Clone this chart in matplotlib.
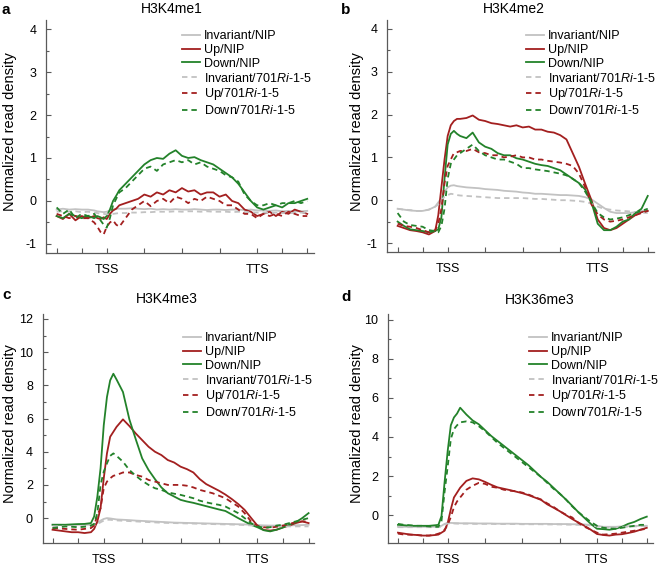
import matplotlib
matplotlib.use('Agg')
import matplotlib.pyplot as plt

plt.rcParams['font.family'] = 'Liberation Sans'
plt.rcParams['mathtext.fontset'] = 'custom'
plt.rcParams['mathtext.rm'] = 'Liberation Sans'
plt.rcParams['mathtext.it'] = 'Liberation Sans:italic'
plt.rcParams['axes.unicode_minus'] = False

# metagene position: 0-4 upstream, 4 = TSS, 16 = TTS, 16-20 downstream
X = [0, 0.5, 1, 1.5, 2, 2.5, 3,
     3.25, 3.5, 3.75, 4, 4.25, 4.5, 4.75, 5,
     5.5, 6, 6.5, 7, 7.5, 8, 8.5, 9, 9.5, 10,
     10.5, 11, 11.5, 12, 12.5, 13, 13.5, 14, 14.5, 15,
     15.5, 16, 16.5, 17, 17.5, 18, 18.5, 19, 19.5, 20]
XTICKS = [0, 2, 4, 7, 10, 13, 16, 18, 20]
XTICKLABELS = ['', '', 'TSS', '', '', '', 'TTS', '', '']

LABELS = ['Invariant/NIP', 'Up/NIP', 'Down/NIP',
          r'Invariant/$\mathit{701Ri}$-$\mathit{1}$-$\mathit{5}$',
          r'Up/$\mathit{701Ri}$-$\mathit{1}$-$\mathit{5}$',
          r'Down/$\mathit{701Ri}$-$\mathit{1}$-$\mathit{5}$']

# ---- a: H3K4me1
a_inv_nip = [-0.20, -0.18, -0.20, -0.19, -0.20, -0.20, -0.22,
             -0.24, -0.25, -0.26, -0.25, -0.22, -0.20, -0.18, -0.18,
             -0.18, -0.17, -0.18, -0.19, -0.18, -0.20, -0.19, -0.20, -0.19, -0.20,
             -0.20, -0.19, -0.20, -0.21, -0.20, -0.20, -0.21, -0.20, -0.20, -0.21,
             -0.20, -0.22, -0.22, -0.23, -0.22, -0.24, -0.23, -0.24, -0.24, -0.23]
a_up_nip = [-0.35, -0.42, -0.30, -0.45, -0.35, -0.40, -0.35,
            -0.40, -0.42, -0.38, -0.42, -0.30, -0.22, -0.18, -0.10,
            -0.05, 0.00, 0.05, 0.15, 0.10, 0.20, 0.15, 0.25, 0.20, 0.30,
            0.22, 0.25, 0.15, 0.20, 0.20, 0.10, 0.15, 0.00, -0.05, -0.20,
            -0.25, -0.35, -0.30, -0.25, -0.35, -0.25, -0.30, -0.20, -0.25, -0.30]
a_down_nip = [-0.35, -0.40, -0.30, -0.35, -0.40, -0.35, -0.40,
              -0.35, -0.38, -0.42, -0.35, -0.20, 0.00, 0.12, 0.25,
              0.40, 0.55, 0.70, 0.85, 0.95, 1.00, 0.98, 1.10, 1.18, 1.05,
              1.00, 1.02, 0.95, 0.90, 0.85, 0.75, 0.65, 0.55, 0.40, 0.20,
              0.00, -0.15, -0.20, -0.15, -0.10, -0.15, -0.05, -0.05, 0.00, 0.05]
a_inv_701 = [-0.25, -0.24, -0.25, -0.24, -0.26, -0.25, -0.27,
             -0.28, -0.30, -0.30, -0.31, -0.30, -0.30, -0.29, -0.28,
             -0.28, -0.27, -0.27, -0.26, -0.26, -0.25, -0.25, -0.25, -0.24, -0.25,
             -0.24, -0.24, -0.25, -0.24, -0.25, -0.25, -0.25, -0.26, -0.25, -0.26,
             -0.26, -0.27, -0.27, -0.28, -0.27, -0.28, -0.28, -0.28, -0.27, -0.28]
a_up_701 = [-0.30, -0.35, -0.40, -0.35, -0.40, -0.40, -0.50,
            -0.60, -0.72, -0.78, -0.60, -0.50, -0.45, -0.55, -0.60,
            -0.40, -0.20, -0.10, 0.00, -0.12, 0.00, 0.05, -0.05, 0.10, 0.05,
            -0.05, 0.05, 0.00, 0.10, 0.05, 0.00, -0.10, -0.10, -0.20, -0.30,
            -0.30, -0.40, -0.30, -0.35, -0.30, -0.35, -0.25, -0.30, -0.35, -0.35]
a_down_701 = [-0.15, -0.30, -0.20, -0.40, -0.30, -0.35, -0.30,
              -0.40, -0.45, -0.55, -0.62, -0.40, -0.10, 0.05, 0.20,
              0.30, 0.45, 0.60, 0.75, 0.80, 0.70, 0.85, 0.90, 0.95, 0.90,
              0.95, 0.85, 0.90, 0.80, 0.75, 0.70, 0.60, 0.55, 0.45, 0.15,
              0.00, -0.10, -0.10, -0.05, -0.10, -0.05, -0.05, 0.00, -0.05, 0.00]

# ---- b: H3K4me2
b_inv_nip = [-0.20, -0.22, -0.24, -0.25, -0.25, -0.22, -0.15,
             -0.05, 0.05, 0.20, 0.30, 0.34, 0.35, 0.33, 0.32,
             0.30, 0.29, 0.28, 0.26, 0.25, 0.24, 0.22, 0.21, 0.20, 0.18,
             0.17, 0.15, 0.15, 0.14, 0.13, 0.12, 0.12, 0.11, 0.10, 0.07,
             0.02, -0.08, -0.18, -0.27, -0.30, -0.30, -0.30, -0.28, -0.25, -0.25]
b_up_nip = [-0.60, -0.65, -0.70, -0.72, -0.75, -0.80, -0.72,
            -0.35, 0.30, 0.95, 1.50, 1.75, 1.85, 1.90, 1.90,
            1.92, 1.98, 1.88, 1.85, 1.80, 1.78, 1.75, 1.72, 1.75, 1.70,
            1.72, 1.65, 1.65, 1.60, 1.58, 1.52, 1.42, 1.10, 0.78, 0.38,
            0.00, -0.45, -0.65, -0.70, -0.65, -0.55, -0.45, -0.35, -0.28, -0.25]
b_down_nip = [-0.50, -0.60, -0.68, -0.70, -0.72, -0.75, -0.72,
              -0.68, -0.40, 0.50, 1.30, 1.55, 1.62, 1.55, 1.50,
              1.45, 1.58, 1.35, 1.25, 1.20, 1.10, 1.05, 1.05, 0.98, 0.95,
              0.90, 0.85, 0.82, 0.80, 0.75, 0.70, 0.60, 0.50, 0.40, 0.25,
              -0.05, -0.55, -0.70, -0.70, -0.62, -0.50, -0.45, -0.30, -0.20, 0.10]
b_inv_701 = [-0.20, -0.22, -0.23, -0.25, -0.25, -0.22, -0.15,
             -0.10, 0.00, 0.08, 0.12, 0.15, 0.14, 0.12, 0.11,
             0.10, 0.09, 0.08, 0.07, 0.06, 0.05, 0.05, 0.05, 0.05, 0.05,
             0.04, 0.03, 0.03, 0.02, 0.01, 0.00, 0.00, -0.01, -0.02, -0.04,
             -0.08, -0.15, -0.20, -0.22, -0.24, -0.25, -0.26, -0.28, -0.29, -0.30]
b_up_701 = [-0.55, -0.60, -0.62, -0.65, -0.70, -0.75, -0.70,
            -0.55, -0.20, 0.40, 0.80, 0.95, 1.10, 1.12, 1.15,
            1.15, 1.20, 1.12, 1.10, 1.05, 1.05, 1.00, 1.02, 1.05, 1.00,
            1.00, 0.95, 0.95, 0.92, 0.90, 0.88, 0.85, 0.80, 0.62, 0.30,
            -0.10, -0.33, -0.45, -0.50, -0.48, -0.45, -0.40, -0.35, -0.30, -0.25]
b_down_701 = [-0.30, -0.50, -0.58, -0.60, -0.62, -0.70, -0.72,
              -0.75, -0.60, -0.20, 0.50, 0.85, 0.95, 1.05, 1.10,
              1.20, 1.30, 1.15, 1.05, 1.00, 0.95, 0.95, 0.90, 0.85, 0.75,
              0.75, 0.72, 0.70, 0.68, 0.65, 0.62, 0.58, 0.50, 0.40, 0.20,
              -0.05, -0.30, -0.40, -0.45, -0.43, -0.40, -0.35, -0.30, -0.25, -0.20]

# ---- c: H3K4me3
c_inv_nip = [-0.40, -0.40, -0.41, -0.40, -0.40, -0.40, -0.40,
             -0.38, -0.30, -0.15, -0.05, 0.00, -0.02, -0.05, -0.08,
             -0.10, -0.12, -0.15, -0.17, -0.19, -0.21, -0.23, -0.25, -0.27, -0.28,
             -0.29, -0.30, -0.31, -0.32, -0.33, -0.34, -0.35, -0.36, -0.37, -0.38,
             -0.40, -0.42, -0.44, -0.45, -0.45, -0.45, -0.44, -0.43, -0.42, -0.40]
c_up_nip = [-0.70, -0.75, -0.80, -0.85, -0.85, -0.90, -0.85,
            -0.65, -0.20, 0.60, 2.40, 3.90, 4.90, 5.20, 5.50,
            5.95, 5.55, 5.10, 4.70, 4.30, 4.00, 3.80, 3.50, 3.35, 3.10,
            2.95, 2.75, 2.35, 2.05, 1.85, 1.65, 1.42, 1.15, 0.85, 0.50,
            0.02, -0.45, -0.72, -0.75, -0.70, -0.55, -0.45, -0.30, -0.20, -0.30]
c_down_nip = [-0.40, -0.40, -0.40, -0.38, -0.36, -0.35, -0.30,
              0.10, 1.30, 3.00, 5.60, 7.30, 8.30, 8.70, 8.35,
              7.60, 5.95, 4.75, 3.60, 2.90, 2.35, 1.85, 1.50, 1.30, 1.10,
              1.00, 0.92, 0.82, 0.72, 0.62, 0.52, 0.43, 0.22, 0.00, -0.20,
              -0.40, -0.55, -0.73, -0.80, -0.70, -0.57, -0.40, -0.25, 0.00, 0.30]
c_inv_701 = [-0.50, -0.50, -0.50, -0.50, -0.50, -0.50, -0.48,
             -0.45, -0.38, -0.25, -0.15, -0.10, -0.10, -0.12, -0.14,
             -0.16, -0.18, -0.20, -0.22, -0.24, -0.26, -0.28, -0.29, -0.30, -0.31,
             -0.32, -0.33, -0.34, -0.35, -0.36, -0.37, -0.38, -0.39, -0.40, -0.42,
             -0.44, -0.46, -0.48, -0.50, -0.50, -0.50, -0.50, -0.50, -0.50, -0.50]
c_up_701 = [-0.60, -0.62, -0.65, -0.68, -0.70, -0.65, -0.60,
            -0.45, 0.20, 0.60, 1.80, 2.20, 2.40, 2.55, 2.60,
            2.75, 2.75, 2.60, 2.50, 2.30, 2.20, 2.10, 2.00, 2.00, 2.00,
            1.95, 1.85, 1.70, 1.60, 1.50, 1.35, 1.20, 0.95, 0.70, 0.30,
            -0.20, -0.45, -0.55, -0.58, -0.52, -0.45, -0.35, -0.25, -0.20, -0.20]
c_down_701 = [-0.60, -0.55, -0.50, -0.52, -0.55, -0.52, -0.45,
              -0.35, 0.30, 2.00, 2.80, 3.30, 3.75, 3.90, 3.75,
              3.40, 2.90, 2.55, 2.25, 2.00, 1.80, 1.70, 1.55, 1.47, 1.40,
              1.30, 1.20, 1.05, 0.95, 0.87, 0.80, 0.70, 0.50, 0.30, 0.00,
              -0.30, -0.50, -0.58, -0.55, -0.45, -0.40, -0.30, -0.20, -0.10, 0.00]

# ---- d: H3K36me3
d_inv_nip = [-0.60, -0.60, -0.60, -0.60, -0.60, -0.60, -0.60,
             -0.60, -0.55, -0.45, -0.40, -0.40, -0.41, -0.41, -0.42,
             -0.42, -0.42, -0.43, -0.43, -0.43, -0.44, -0.44, -0.44, -0.44, -0.45,
             -0.45, -0.45, -0.45, -0.45, -0.46, -0.46, -0.46, -0.47, -0.47, -0.48,
             -0.50, -0.55, -0.60, -0.60, -0.60, -0.58, -0.57, -0.56, -0.55, -0.55]
d_up_nip = [-0.90, -0.95, -1.00, -1.02, -1.05, -1.05, -1.02,
            -1.00, -0.90, -0.80, -0.40, 0.30, 0.90, 1.15, 1.40,
            1.75, 1.88, 1.83, 1.70, 1.55, 1.42, 1.35, 1.28, 1.20, 1.12,
            1.02, 0.90, 0.78, 0.55, 0.38, 0.20, 0.00, -0.20, -0.38, -0.55,
            -0.75, -0.97, -1.02, -1.05, -1.00, -0.98, -0.92, -0.85, -0.75, -0.65]
d_down_nip = [-0.50, -0.52, -0.55, -0.55, -0.55, -0.55, -0.52,
              -0.50, -0.05, 1.70, 3.30, 4.60, 5.00, 5.20, 5.50,
              5.15, 4.85, 4.65, 4.35, 4.05, 3.80, 3.55, 3.30, 3.05, 2.80,
              2.55, 2.25, 1.95, 1.70, 1.40, 1.10, 0.80, 0.48, 0.15, -0.15,
              -0.45, -0.70, -0.72, -0.75, -0.70, -0.60, -0.45, -0.35, -0.20, -0.08]
d_inv_701 = [-0.62, -0.62, -0.62, -0.62, -0.62, -0.62, -0.62,
             -0.62, -0.58, -0.48, -0.43, -0.43, -0.43, -0.44, -0.44,
             -0.44, -0.45, -0.45, -0.45, -0.45, -0.46, -0.46, -0.46, -0.46, -0.47,
             -0.47, -0.47, -0.47, -0.48, -0.48, -0.48, -0.49, -0.49, -0.50, -0.50,
             -0.53, -0.58, -0.62, -0.62, -0.62, -0.60, -0.60, -0.58, -0.57, -0.56]
d_up_701 = [-0.95, -1.00, -1.00, -1.02, -1.05, -1.05, -1.00,
            -0.95, -0.90, -0.75, -0.50, -0.10, 0.40, 0.70, 0.90,
            1.30, 1.50, 1.65, 1.60, 1.45, 1.40, 1.30, 1.25, 1.22, 1.15,
            1.05, 0.92, 0.80, 0.60, 0.42, 0.20, 0.02, -0.12, -0.40, -0.60,
            -0.75, -0.90, -1.00, -0.98, -0.95, -0.90, -0.85, -0.80, -0.75, -0.70]
d_down_701 = [-0.45, -0.50, -0.52, -0.55, -0.55, -0.58, -0.60,
              -0.60, -0.30, 1.20, 2.50, 3.90, 4.40, 4.60, 4.75,
              4.80, 4.75, 4.55, 4.30, 4.00, 3.70, 3.45, 3.20, 2.95, 2.70,
              2.45, 2.20, 1.95, 1.65, 1.35, 1.10, 0.80, 0.45, 0.15, -0.10,
              -0.35, -0.55, -0.65, -0.68, -0.70, -0.65, -0.60, -0.55, -0.50, -0.50]

GRAY, RED, GREEN = '#c2c2c2', '#a31f1f', '#23822a'
COLORS = [GRAY, RED, GREEN, GRAY, RED, GREEN]
STYLES = ['-', '-', '-', (0, (3, 2.2)), (0, (3, 2.2)), (0, (3, 2.2))]

W, H = 661, 568


def box(x0, y0, x1, y1):
    return [x0 / W, 1 - y1 / H, (x1 - x0) / W, (y1 - y0) / H]


def fpos(x, y):
    return x / W, 1 - y / H


panels = [
    dict(letter='a', title='H3K4me1', box=box(46, 20, 313.5, 253),
         series=[a_inv_nip, a_up_nip, a_down_nip, a_inv_701, a_up_701, a_down_701],
         xlim=(-0.85, 20.5), ylim=(-1.21, 4.21),
         yticks=[-1, 0, 1, 2, 3, 4], yminor=[-0.5, 0.5, 1.5, 2.5, 3.5],
         letter_xy=(2, 3), title_xy=(172, 9), leg_xy=(182, 30), ylab_x=-0.11),
    dict(letter='b', title='H3K4me2', box=box(387, 20, 654, 252),
         series=[b_inv_nip, b_up_nip, b_down_nip, b_inv_701, b_up_701, b_down_701],
         xlim=(-0.85, 20.5), ylim=(-1.21, 4.21),
         yticks=[-1, 0, 1, 2, 3, 4], yminor=[-0.5, 0.5, 1.5, 2.5, 3.5],
         letter_xy=(341, 3), title_xy=(514, 9), leg_xy=(526, 30), ylab_x=-0.088),
    dict(letter='c', title='H3K4me3', box=box(42.7, 314, 313.7, 543),
         series=[c_inv_nip, c_up_nip, c_down_nip, c_inv_701, c_up_701, c_down_701],
         xlim=(-0.77, 20.4), ylim=(-1.5, 12.3),
         yticks=[0, 2, 4, 6, 8, 10, 12], yminor=[1, 3, 5, 7, 9, 11],
         letter_xy=(2, 288), title_xy=(167, 299), leg_xy=(183, 332), ylab_x=-0.095),
    dict(letter='d', title='H3K36me3', box=box(388, 314, 653, 543),
         series=[d_inv_nip, d_up_nip, d_down_nip, d_inv_701, d_up_701, d_down_701],
         xlim=(-0.8, 20.5), ylim=(-1.43, 10.3),
         yticks=[0, 2, 4, 6, 8, 10], yminor=[1, 3, 5, 7, 9],
         letter_xy=(341, 290), title_xy=(540, 300), leg_xy=(529, 332), ylab_x=-0.09),
]

AXCOL = '#5a5a5a'

fig = plt.figure(figsize=(W / 100, H / 100), dpi=100)

for p in panels:
    ax = fig.add_axes(p['box'])
    for vals, col, ls in zip(p['series'], COLORS, STYLES):
        assert len(vals) == len(X)
        ax.plot(X, vals, color=col, linestyle=ls, linewidth=1.3)
    ax.set_xlim(*p['xlim'])
    ax.set_ylim(*p['ylim'])
    ax.set_xticks(XTICKS)
    ax.set_xticklabels(XTICKLABELS, fontsize=9.5)
    ax.set_yticks(p['yticks'])
    ax.set_yticks(p['yminor'], minor=True)
    ax.tick_params(axis='both', which='both', direction='in', color=AXCOL, width=0.8)
    ax.tick_params(axis='both', which='major', length=3.5, labelsize=9)
    ax.tick_params(axis='x', which='major', pad=8)
    ax.tick_params(axis='y', which='major', pad=7)
    ax.tick_params(axis='y', which='minor', length=2.5)
    for side in ['top', 'right']:
        ax.spines[side].set_visible(False)
    for side in ['left', 'bottom']:
        ax.spines[side].set_color(AXCOL)
        ax.spines[side].set_linewidth(0.9)
    ax.set_ylabel('Normalized read density', fontsize=10.5)
    ax.yaxis.set_label_coords(p['ylab_x'], 0.52)
    ax.legend(LABELS, loc='upper left', bbox_to_anchor=fpos(*p['leg_xy']),
              bbox_transform=fig.transFigure, frameon=False, fontsize=9,
              handlelength=1.45, handletextpad=0.3, labelspacing=0.15,
              borderpad=0, borderaxespad=0)
    fig.text(*fpos(*p['title_xy']), p['title'], ha='center', va='center', fontsize=10)
    fig.text(*fpos(*p['letter_xy']), p['letter'], ha='left', va='top',
             fontsize=11, fontweight='bold')

fig.savefig('out.png', dpi=100)
